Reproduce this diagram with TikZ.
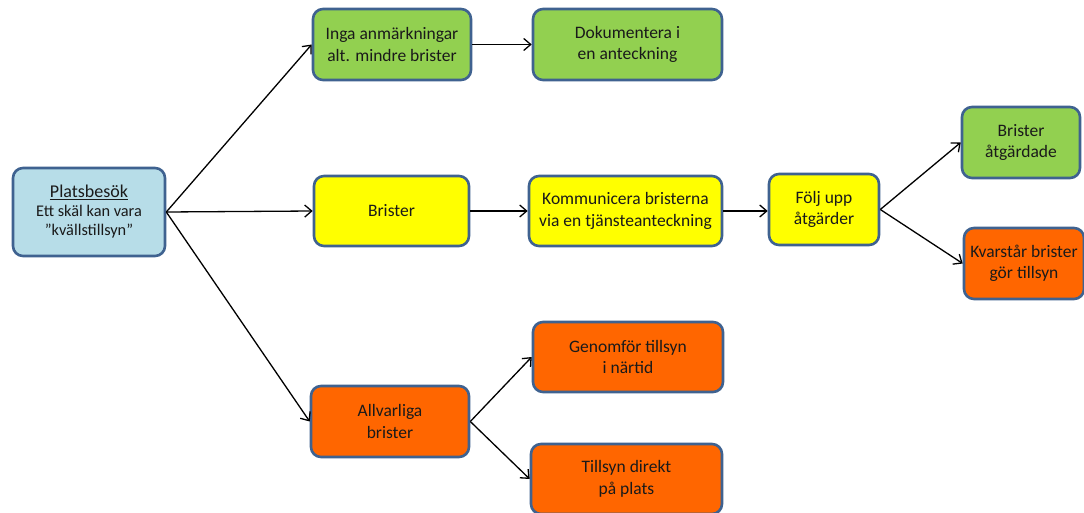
\documentclass[tikz,border=0pt]{standalone}
\usepackage{fontspec}
\setmainfont{Carlito}
\usetikzlibrary{arrows.meta}
\definecolor{bordc}{HTML}{3F6290}
\definecolor{cblue}{HTML}{B7DDE8}
\definecolor{cgreen}{HTML}{92D050}
\definecolor{cyellow}{HTML}{FFFF00}
\definecolor{corange}{HTML}{FF6600}
\definecolor{txt}{HTML}{1A1A1A}
\tikzset{
  box/.style={draw=bordc, line width=2.6pt, rounded corners=10pt, align=center,
    inner sep=0pt, text=txt, font=\fontsize{17.5}{21.5}\selectfont},
  conn/.style={draw=black, line width=1.3pt, -{Straight Barb[length=7pt,width=12pt,line width=1.3pt]}},
}
\begin{document}
\begin{tikzpicture}[x=1pt,y=-1pt]
\useasboundingbox[fill=white] (0,0) rectangle (1084,513);
\node[box, fill=cblue, minimum width=152pt, minimum height=88pt, font=\fontsize{16.3}{19}\selectfont] (plats) at (89,212)
  {{\fontsize{18}{19}\selectfont\underline{Platsbesök}}\\Ett skäl kan vara\\”kvällstillsyn”};
\node[box, fill=cgreen, minimum width=158pt, minimum height=71pt] (inga) at (392,44.5) {Inga anmärkningar\\alt. mindre brister};
\node[box, fill=cgreen, minimum width=189pt, minimum height=71pt] (dok) at (627.5,44.5) {Dokumentera i\\en anteckning};
\node[box, fill=cyellow, minimum width=155pt, minimum height=70pt] (brister) at (391.5,211) {Brister};
\node[box, fill=cyellow, minimum width=193pt, minimum height=70pt] (komm) at (625.5,211) {Kommunicera bristerna\\via en tjänsteanteckning};
\node[box, fill=cyellow, minimum width=110pt, minimum height=71pt] (folj) at (824,209.5) {Följ upp\\åtgärder};
\node[box, fill=cgreen, minimum width=118pt, minimum height=71pt] (atg) at (1021,142.5) {Brister\\åtgärdade};
\node[box, fill=corange, minimum width=120pt, minimum height=71pt] (kvar) at (1024,263.5) {Kvarstår brister\\gör tillsyn};
\node[box, fill=corange, minimum width=158pt, minimum height=71pt] (allv) at (390,421.5) {Allvarliga\\brister};
\node[box, fill=corange, minimum width=190pt, minimum height=70pt] (genom) at (628,357) {Genomför tillsyn\\i närtid};
\node[box, fill=corange, minimum width=191pt, minimum height=70pt] (direkt) at (626.5,479) {Tillsyn direkt\\på plats};
\draw[conn] (plats.east) -- (inga.west);
\draw[conn] (plats.east) -- (brister.west);
\draw[conn] (plats.east) -- (allv.west);
\draw[conn] (inga.east) -- (dok.west);
\draw[conn] (brister.east) -- (komm.west);
\draw[conn] (komm.east) -- (folj.west |- komm.east);
\draw[conn] (folj.east) -- (atg.west);
\draw[conn] (folj.east) -- (kvar.west);
\draw[conn] (allv.east) -- (genom.west);
\draw[conn] (allv.east) -- (direkt.west);
\end{tikzpicture}
\end{document}
